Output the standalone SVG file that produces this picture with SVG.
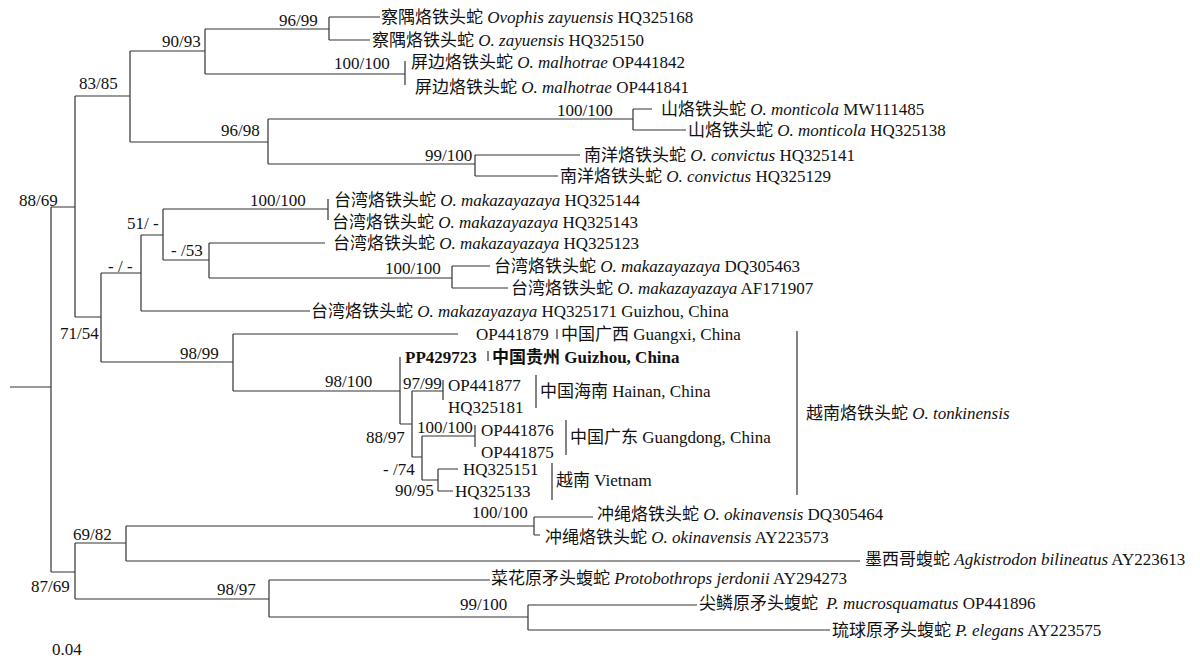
<svg xmlns="http://www.w3.org/2000/svg" width="1200" height="658" viewBox="0 0 1200 658">
<style>
.t{font-family:"Liberation Serif","Noto Sans CJK SC",serif;font-size:17px;fill:#111}
.i{font-style:italic}
.b{font-weight:bold}
.e{fill:none;stroke:#333;stroke-width:1.2}
</style>
<rect width="1200" height="658" fill="#fff"/>
<g id="connectors" class="e">
<path d="M10 387H51M51 207V572M51 207H75M51 572H75M75 96V317M75 96H130M130 51V142M130 51H205M205 29V74M205 29H329M329 17V40M329 17H380M329 40H370M205 74H405M405 61V85"/>
<path d="M130 142H268M268 119V164M268 119H633M633 109V130M633 109H652M633 130H686M268 164H475M475 155V176M475 155H580M475 176H558"/>
<path d="M75 317H101M101 273V362M101 273H141M141 235V311M141 235H163M163 209V260M163 209H328M328 199V220M163 260H209M209 243V278M209 243H325M209 278H452M452 266V288M452 266H490M452 288H508M141 311H310"/>
<path d="M101 362H233M233 334V391M233 334H458M233 391H400M400 357V424M400 424H412M412 391V457M412 391H443M443 380V400M412 457H422M422 436V480M422 436H475M475 425V447M422 480H438M438 469V491M438 469H458M438 491H453"/>
<path d="M557 329V339M488 351V361M536 375V408M566 420V455M552 463V500M797 331V495"/>
<path d="M75 543V599M75 543H126M126 526V561M126 526H534M534 517V535M534 517H593M534 535H540M126 561H860M75 599H269M269 580V617M269 580H490M269 617H528M528 605V630M528 605H697M528 630H830"/>
</g>
<g id="tip-HQ325168"><text class="t" x="381" y="23">察隅烙铁头蛇 <tspan class="i">Ovophis zayuensis</tspan> HQ325168</text></g>
<g id="tip-HQ325150"><text class="t" x="372" y="46">察隅烙铁头蛇 <tspan class="i">O. zayuensis</tspan> HQ325150</text></g>
<g id="tip-OP441842"><text class="t" x="411" y="68">屏边烙铁头蛇 <tspan class="i">O. malhotrae</tspan> OP441842</text></g>
<g id="tip-OP441841"><text class="t" x="415" y="93">屏边烙铁头蛇 <tspan class="i">O. malhotrae</tspan> OP441841</text></g>
<g id="tip-MW111485"><text class="t" x="661" y="115">山烙铁头蛇 <tspan class="i">O. monticola</tspan> MW111485</text></g>
<g id="tip-HQ325138"><text class="t" x="688" y="136">山烙铁头蛇 <tspan class="i">O. monticola</tspan> HQ325138</text></g>
<g id="tip-HQ325141"><text class="t" x="584" y="161">南洋烙铁头蛇 <tspan class="i">O. convictus</tspan> HQ325141</text></g>
<g id="tip-HQ325129"><text class="t" x="560" y="182">南洋烙铁头蛇 <tspan class="i">O. convictus</tspan> HQ325129</text></g>
<g id="tip-HQ325144"><text class="t" x="334" y="206">台湾烙铁头蛇 <tspan class="i">O. makazayazaya</tspan> HQ325144</text></g>
<g id="tip-HQ325143"><text class="t" x="332" y="228">台湾烙铁头蛇 <tspan class="i">O. makazayazaya</tspan> HQ325143</text></g>
<g id="tip-HQ325123"><text class="t" x="333" y="249">台湾烙铁头蛇 <tspan class="i">O. makazayazaya</tspan> HQ325123</text></g>
<g id="tip-DQ305463"><text class="t" x="494" y="272">台湾烙铁头蛇 <tspan class="i">O. makazayazaya</tspan> DQ305463</text></g>
<g id="tip-AF171907"><text class="t" x="511" y="294">台湾烙铁头蛇 <tspan class="i">O. makazayazaya</tspan> AF171907</text></g>
<g id="tip-HQ325171"><text class="t" x="311" y="317">台湾烙铁头蛇 <tspan class="i">O. makazayazaya</tspan> HQ325171 Guizhou, China</text></g>
<g id="tip-OP441879"><text class="t" x="476" y="340">OP441879</text><text class="t" x="561" y="340">中国广西 Guangxi, China</text></g>
<g id="tip-PP429723"><text class="t b" x="405" y="363">PP429723</text><text class="t b" x="492" y="363">中国贵州 Guizhou, China</text></g>
<g id="tip-OP441877"><text class="t" x="448" y="391">OP441877</text></g>
<g id="tip-HQ325181"><text class="t" x="448" y="413">HQ325181</text></g>
<g id="grp-hainan"><text class="t" x="540" y="397">中国海南 Hainan, China</text></g>
<g id="tip-OP441876"><text class="t" x="481" y="436">OP441876</text></g>
<g id="tip-OP441875"><text class="t" x="481" y="458">OP441875</text></g>
<g id="grp-guangdong"><text class="t" x="570" y="443">中国广东 Guangdong, China</text></g>
<g id="tip-HQ325151"><text class="t" x="463" y="475">HQ325151</text></g>
<g id="tip-HQ325133"><text class="t" x="455" y="497">HQ325133</text></g>
<g id="grp-vietnam"><text class="t" x="556" y="486">越南 Vietnam</text></g>
<g id="grp-tonkinensis"><text class="t" x="806" y="419">越南烙铁头蛇 <tspan class="i">O. tonkinensis</tspan></text></g>
<g id="tip-DQ305464"><text class="t" x="597" y="520">冲绳烙铁头蛇 <tspan class="i">O. okinavensis</tspan> DQ305464</text></g>
<g id="tip-AY223573"><text class="t" x="545" y="543">冲绳烙铁头蛇 <tspan class="i">O. okinavensis</tspan> AY223573</text></g>
<g id="tip-AY223613"><text class="t" x="865" y="565">墨西哥蝮蛇 <tspan class="i">Agkistrodon bilineatus</tspan> AY223613</text></g>
<g id="tip-AY294273"><text class="t" x="491" y="584">菜花原矛头蝮蛇 <tspan class="i">Protobothrops jerdonii</tspan> AY294273</text></g>
<g id="tip-OP441896"><text class="t" x="699" y="609">尖鳞原矛头蝮蛇 <tspan class="i" dx="4">P. mucrosquamatus</tspan> OP441896</text></g>
<g id="tip-AY223575"><text class="t" x="832" y="636">琉球原矛头蝮蛇 <tspan class="i">P. elegans</tspan> AY223575</text></g>
<g id="support">
<text class="t" x="279" y="26">96/99</text>
<text class="t" x="162" y="47">90/93</text>
<text class="t" x="79" y="89">83/85</text>
<text class="t" x="334" y="69">100/100</text>
<text class="t" x="221" y="136">96/98</text>
<text class="t" x="557" y="116">100/100</text>
<text class="t" x="425" y="161">99/100</text>
<text class="t" x="19" y="206">88/69</text>
<text class="t" x="250" y="206">100/100</text>
<text class="t" x="127" y="229">51/ -</text>
<text class="t" x="171" y="256">- /53</text>
<text class="t" x="385" y="274">100/100</text>
<text class="t" x="108" y="272">- / -</text>
<text class="t" x="60" y="339">71/54</text>
<text class="t" x="180" y="359">98/99</text>
<text class="t" x="325" y="387">98/100</text>
<text class="t" x="403" y="389">97/99</text>
<text class="t" x="366" y="443">88/97</text>
<text class="t" x="417" y="433">100/100</text>
<text class="t" x="383" y="475">- /74</text>
<text class="t" x="395" y="496">90/95</text>
<text class="t" x="472" y="518">100/100</text>
<text class="t" x="73" y="540">69/82</text>
<text class="t" x="31" y="592">87/69</text>
<text class="t" x="217" y="595">98/97</text>
<text class="t" x="460" y="610">99/100</text>
</g>
<g id="scale"><text class="t" x="52" y="655">0.04</text></g>
</svg>
